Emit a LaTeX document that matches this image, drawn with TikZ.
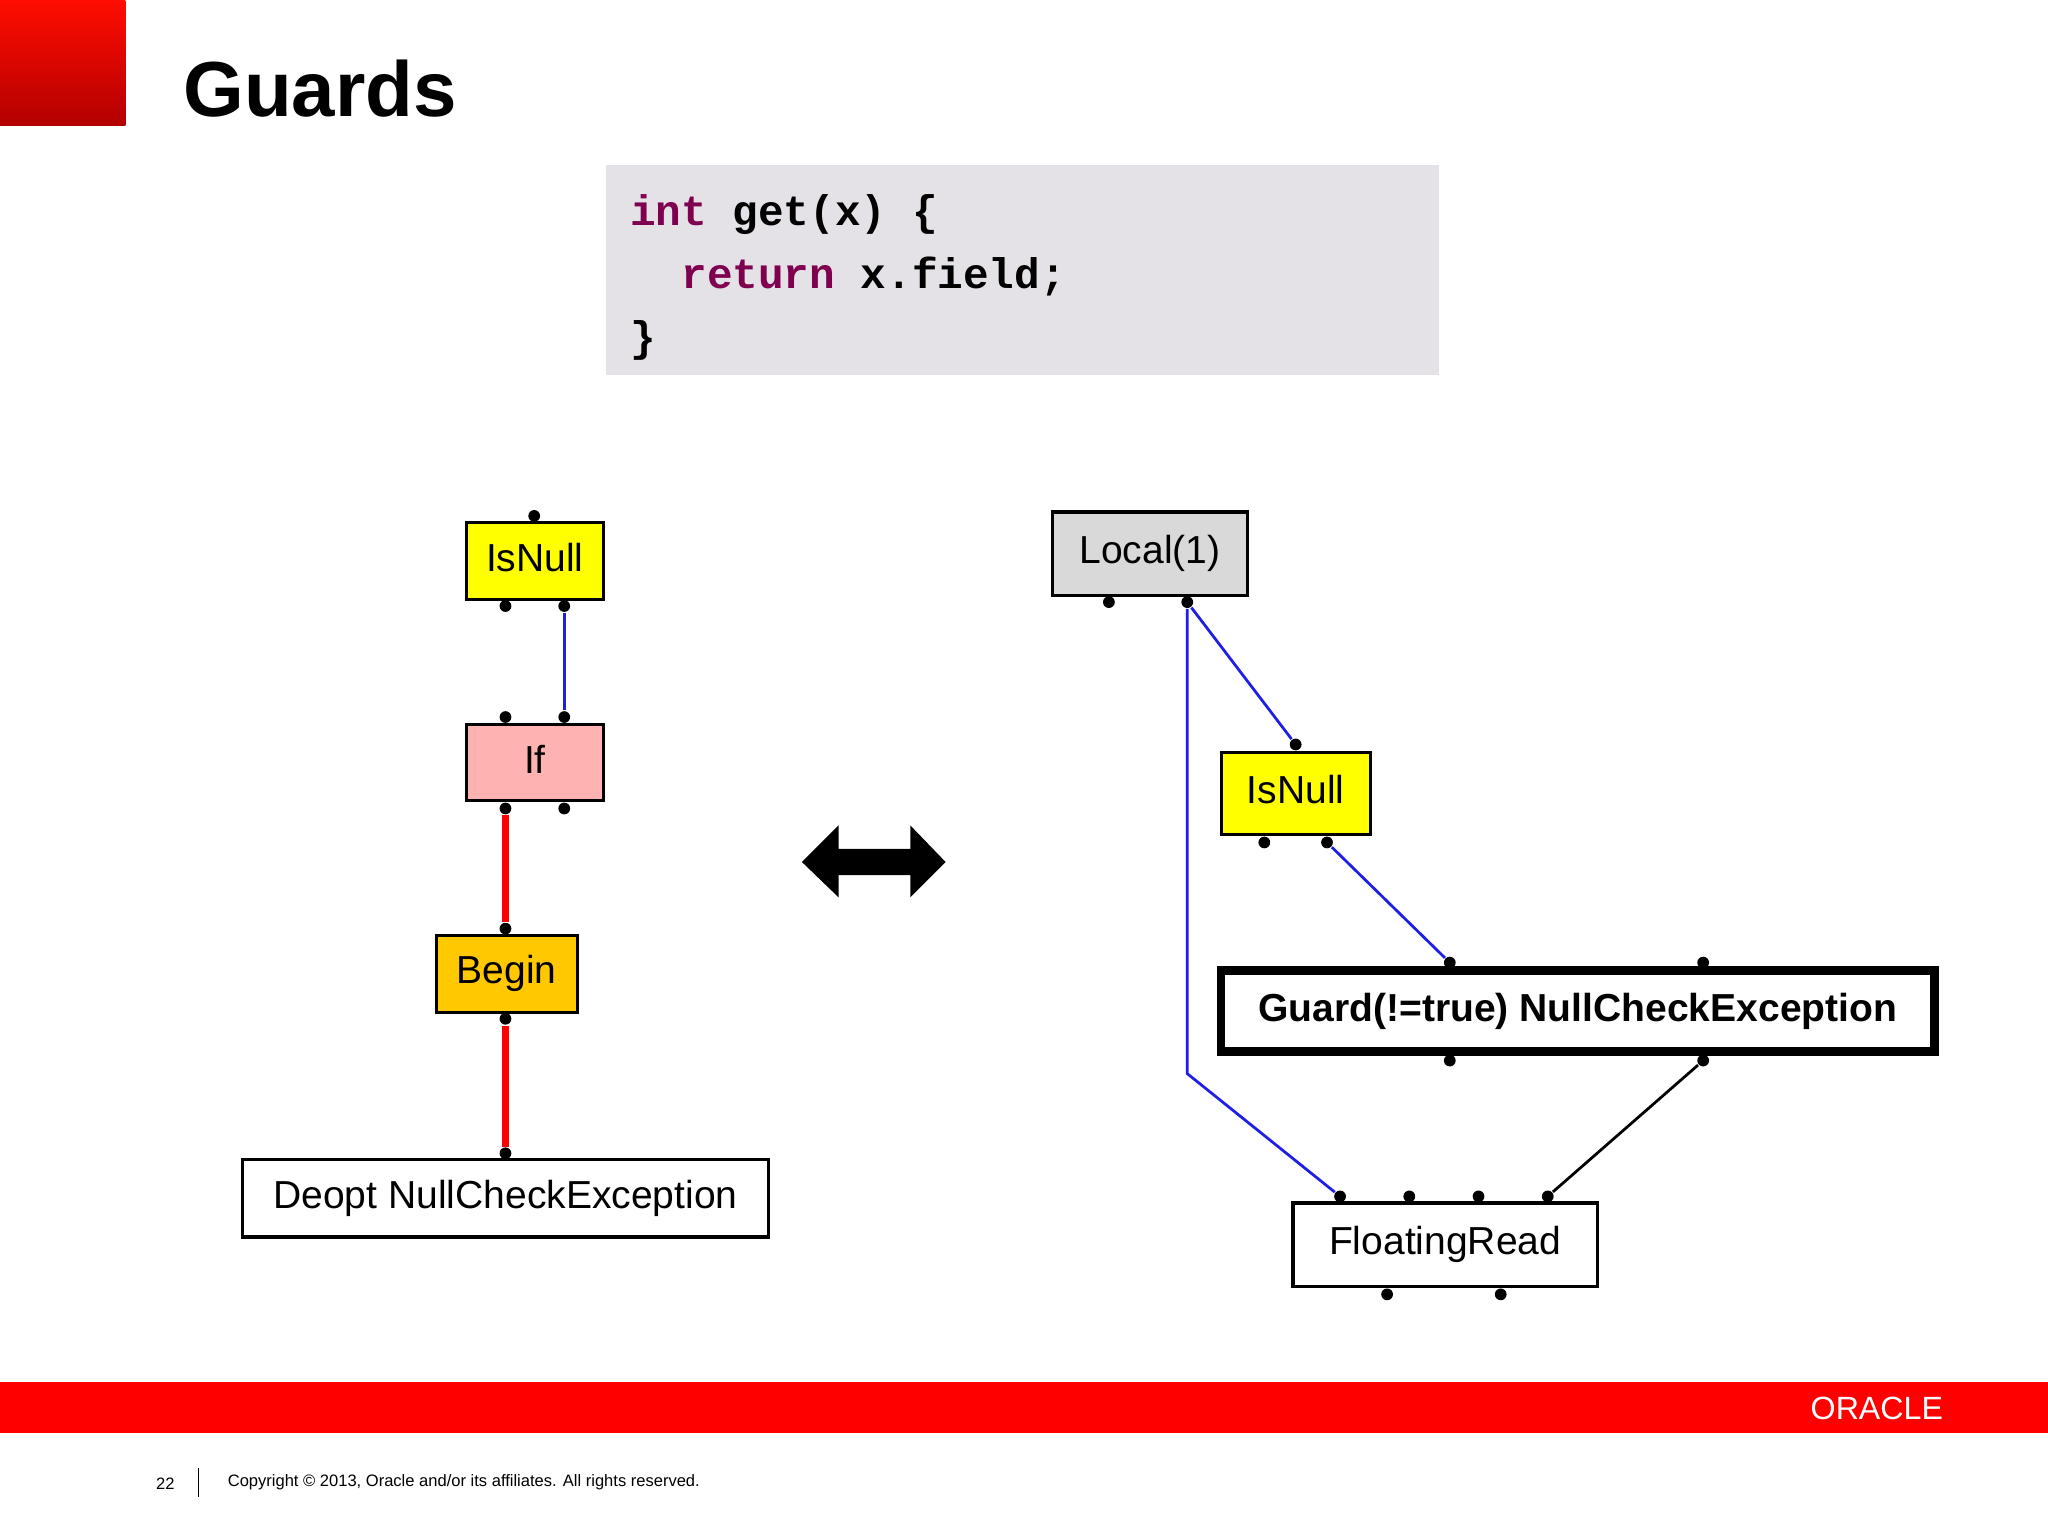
\documentclass[tikz,border=0pt]{standalone}
\usepackage{fontspec}
\setmainfont{Liberation Sans}
\newfontfamily\codefont{Liberation Mono}
\definecolor{codebg}{RGB}{228,226,230}
\definecolor{kw}{RGB}{128,0,80}
\definecolor{ynode}{RGB}{255,255,0}
\definecolor{pnode}{RGB}{255,178,178}
\definecolor{onode}{RGB}{255,200,0}
\definecolor{gnode}{RGB}{217,217,217}
\definecolor{obar}{RGB}{255,0,0}
\definecolor{blueline}{RGB}{30,30,230}
\newcommand{\rz}[1]{\raisebox{1.6pt}{#1}}
\begin{document}
\begin{tikzpicture}[x=0.01cm,y=-0.01cm,
  box/.style={draw=black,line width=0.7pt,inner sep=0pt,font=\fontsize{8.5}{10}\selectfont},
  dot/.style={fill=black,circle,inner sep=0pt,minimum size=0.09cm},
  bl/.style={draw=blueline,line width=0.6pt},
  rl/.style={draw=red,line width=1.6pt}]
\useasboundingbox (0,0) rectangle (1568,1176);
\fill[white] (0,0) rectangle (1568,1176);
\shade[top color=red!90!orange,bottom color=red!70!black] (0,0) rectangle (96,96);
\node[anchor=west,font=\bfseries\fontsize{17}{20}\selectfont] (title) at (128,68) {Guards};
% code
\fill[codebg] (464,126) rectangle (1102,287);
\node[anchor=west,font=\codefont\bfseries\fontsize{9.3}{11}\selectfont] (c1) at (470,164) {\textcolor{kw}{int} get(x) \{};
\node[anchor=west,font=\codefont\bfseries\fontsize{9.3}{11}\selectfont] (c2) at (470,212) {\phantom{xx}\textcolor{kw}{return} x.field;};
\node[anchor=west,font=\codefont\bfseries\fontsize{9.3}{11}\selectfont] (c3) at (470,261) {\}};
% left graph
\node[box,fill=ynode,minimum width=1.05cm,minimum height=0.59cm] (isnA) at (409.5,429.5) {\rz{IsNull}};
\node[box,fill=pnode,minimum width=1.05cm,minimum height=0.58cm] (ifA) at (409.5,584) {\rz{If}};
\node[box,fill=onode,minimum width=1.08cm,minimum height=0.59cm] (begA) at (388,745.5) {\rz{Begin}};
\node[box,fill=white,minimum width=4.02cm,minimum height=0.59cm] (deoA) at (387,917.5) {\rz{Deopt NullCheckException}};
\node[dot] (a1) at (409,395) {};
\node[dot] (a2) at (387,464) {};
\node[dot] (a3) at (432,464) {};
\node[dot] (a4) at (387,549) {};
\node[dot] (a5) at (432,549) {};
\node[dot] (a6) at (387,619) {};
\node[dot] (a7) at (432,619) {};
\node[dot] (a8) at (387,711) {};
\node[dot] (a9) at (387,780) {};
\node[dot] (a10) at (387,883) {};
\draw[bl] (a3) -- (a5);
\draw[rl] (a6) -- (a8);
\draw[rl] (a9) -- (a10);
% double arrow
\fill[black] (614,660) -- (642,632) -- (642,650) -- (697,650) -- (697,632) -- (724,660) -- (697,687) -- (697,670) -- (642,670) -- (642,687) -- cycle;
% right graph
\node[box,fill=gnode,minimum width=1.49cm,minimum height=0.64cm] (loc) at (880.5,424) {\rz{Local(1)}};
\node[box,fill=ynode,minimum width=1.14cm,minimum height=0.63cm] (isnB) at (992,607.5) {\rz{IsNull}};
\node[box,fill=white,line width=1.8pt,minimum width=5.46cm,minimum height=0.62cm,font=\bfseries\fontsize{8.5}{10}\selectfont] (grd) at (1208,774) {\rz{Guard(!=true) NullCheckException}};
\node[box,fill=white,minimum width=2.33cm,minimum height=0.64cm] (frd) at (1106.5,953) {\rz{FloatingRead}};
\node[dot] (b1) at (849,461) {};
\node[dot] (b2) at (909,461) {};
\node[dot] (b3) at (992,570) {};
\node[dot] (b4) at (968,645) {};
\node[dot] (b5) at (1016,645) {};
\node[dot] (b6) at (1110,737) {};
\node[dot] (b7) at (1304,737) {};
\node[dot] (b8) at (1110,812) {};
\node[dot] (b9) at (1304,812) {};
\node[dot] (b10) at (1026,916) {};
\node[dot] (b11) at (1079,916) {};
\node[dot] (b12) at (1132,916) {};
\node[dot] (b13) at (1185,916) {};
\node[dot] (b14) at (1062,991) {};
\node[dot] (b15) at (1149,991) {};
\coordinate (bend) at (909,822);
\draw[bl] (b2) -- (b3);
\draw[bl] (b5) -- (b6);
\draw[bl] (b2) -- (bend) -- (b10);
\draw[line width=0.6pt] (b9) -- (b13);
% footer
\fill[obar] (0,1058) rectangle (1568,1097);
\node[text=white,font=\fontsize{7}{8}\selectfont,anchor=east] (orc) at (1500,1078) {ORACLE};
\node[anchor=east,font=\fontsize{3.6}{4}\selectfont] (pg) at (146,1136) {22};
\draw[line width=0.4pt] (152,1124) -- (152,1146);
\node[anchor=west,font=\fontsize{3.6}{4}\selectfont] (cp) at (162,1135) {Copyright © 2013, Oracle and/or its affiliates. All rights reserved.};
\end{tikzpicture}
\end{document}
